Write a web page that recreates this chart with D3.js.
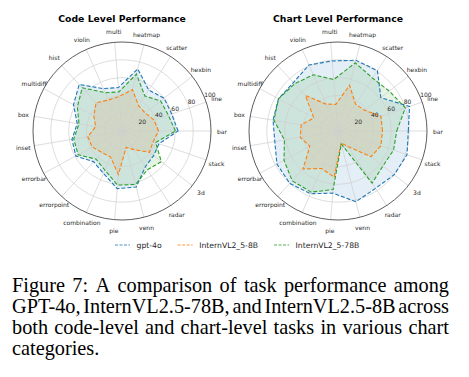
<!DOCTYPE html>
<html>
<head>
<meta charset="utf-8">
<script src="https://cdn.jsdelivr.net/npm/d3@7"></script>
<style>
  body { margin: 0; background: #fff; }
  svg { display: block; }
</style>
</head>
<body>
<div id="chart"></div>
<script>
// Chart categories, counter-clockwise from the right
const categories = ["bar", "line", "hexbin", "scatter", "heatmap", "multi", "violin", "hist", "multidiff",
  "box", "inset", "errorbar", "errorpoint", "combination", "pie", "venn", "radar", "3d", "stack"];

const models = ["gpt-4o", "InternVL2_5-8B", "InternVL2_5-78B"];

// Code level scores
const codeGpt4o   = [63, 59, 60, 55, 72, 49, 52, 71, 62, 51, 57, 59, 47, 52, 65, 65, 48, 45, 44];
const codeIntern8 = [41, 38, 33, 34, 48, 39, 38, 43, 36, 30, 39, 38, 33, 32, 49, 19, 25, 39, 37];
const codeIntern78 = [60, 55, 55, 47, 66, 44, 47, 66, 57, 49, 55, 56, 43, 48, 61, 62, 52, 56, 40];

// Chart level scores
const chartGpt4o   = [79, 85, 61, 81, 82, 79, 81, 74, 76, 74, 72, 78, 80, 77, 70, 82, 77, 80, 82];
const chartIntern8 = [50, 51, 38, 36, 53, 30, 33, 54, 31, 42, 43, 36, 58, 46, 52, 14, 21, 47, 51];
const chartIntern78 = [66, 80, 73, 71, 79, 58, 69, 72, 76, 73, 61, 69, 76, 75, 66, 15, 70, 64, 66];

const rTicks = [20, 40, 60, 80, 100];

const captionLines = [
  "Figure 7:  A comparison of task performance among",
  "GPT-4o, InternVL2.5-78B, and InternVL2.5-8B across",
  "both code-level and chart-level tasks in various chart",
  "categories."
];

const colors = ["#1f77b4", "#ff7f0e", "#2ca02c"];

const width = 469, height = 377;
const R = 89;

const svg = d3.select("#chart")
  .append("svg")
    .attr("width", width)
    .attr("height", height);

svg.append("rect")
  .attr("width", width)
  .attr("height", height)
  .attr("fill", "#fff");

const angle = d3.scaleLinear()
  .domain([0, categories.length])
  .range([0, 2 * Math.PI]);

const radius = d3.scaleLinear()
  .domain([0, 100])
  .range([0, R]);

function drawRadar(cx, title, series) {
  const g = svg.append("g").attr("transform", `translate(${cx},131)`);

  // polygon generator (d3 radial angle is clockwise from 12 o'clock)
  const line = d3.lineRadial()
    .angle((d, i) => Math.PI / 2 - angle(i))
    .radius(d => radius(d))
    .curve(d3.curveLinearClosed);

  // fills
  g.selectAll(".fill")
    .data(series)
    .join("path")
      .attr("class", "fill")
      .attr("d", d => line(d))
      .attr("fill", (d, i) => colors[i])
      .attr("fill-opacity", 0.12)
      .attr("stroke", "none");

  // grid circles
  g.selectAll(".ring")
    .data(rTicks.slice(0, -1))
    .join("circle")
      .attr("class", "ring")
      .attr("r", d => radius(d))
      .attr("fill", "none")
      .attr("stroke", "#cfcfcf")
      .attr("stroke-width", 0.7);

  // spokes
  g.selectAll(".spoke")
    .data(categories)
    .join("line")
      .attr("class", "spoke")
      .attr("x2", (d, i) => R * Math.cos(angle(i)))
      .attr("y2", (d, i) => -R * Math.sin(angle(i)))
      .attr("stroke", "#cfcfcf")
      .attr("stroke-width", 0.7);

  // outer spine
  g.append("circle")
    .attr("r", radius(100))
    .attr("fill", "none")
    .attr("stroke", "#333")
    .attr("stroke-width", 0.8);

  // outlines
  g.selectAll(".outline")
    .data(series)
    .join("path")
      .attr("class", "outline")
      .attr("d", d => line(d))
      .attr("fill", "none")
      .attr("stroke", (d, i) => colors[i])
      .attr("stroke-width", 1.1)
      .attr("stroke-dasharray", "4,2");

  // category labels
  g.selectAll(".cat")
    .data(categories)
    .join("text")
      .attr("class", "cat")
      .attr("x", (d, i) => (R + 11) * Math.cos(angle(i)))
      .attr("y", (d, i) => -(R + 11) * Math.sin(angle(i)))
      .attr("text-anchor", "middle")
      .attr("dominant-baseline", "central")
      .attr("font-family", "DejaVu Sans")
      .attr("font-size", 6)
      .attr("fill", "#262626")
      .text(d => d);

  // radial tick labels at 22.5 degrees
  const la = 22.5 * Math.PI / 180;
  g.selectAll(".rtick")
    .data(rTicks)
    .join("text")
      .attr("class", "rtick")
      .attr("x", d => radius(d) * Math.cos(la))
      .attr("y", d => -radius(d) * Math.sin(la))
      .attr("font-family", "DejaVu Sans")
      .attr("font-size", 6)
      .attr("fill", "#262626")
      .text(d => d);

  // title
  g.append("text")
    .attr("y", -109.5)
    .attr("text-anchor", "middle")
    .attr("font-family", "DejaVu Sans")
    .attr("font-weight", "bold")
    .attr("font-size", 9.3)
    .attr("fill", "#000")
    .text(title);
}

drawRadar(122, "Code Level Performance", [codeGpt4o, codeIntern8, codeIntern78]);
drawRadar(338, "Chart Level Performance", [chartGpt4o, chartIntern8, chartIntern78]);

// Legend
const legend = svg.append("g").attr("transform", "translate(115,245)");
let lx = 0;
models.forEach(function(m, i) {
  const item = legend.append("g").attr("transform", `translate(${lx},0)`);
  item.append("line")
    .attr("x2", 15)
    .attr("stroke", colors[i])
    .attr("stroke-opacity", 0.55)
    .attr("stroke-width", 1.3)
    .attr("stroke-dasharray", "3,1.5");
  const t = item.append("text")
    .attr("x", 21.5)
    .attr("dominant-baseline", "central")
    .attr("font-family", "DejaVu Sans")
    .attr("font-size", 7.7)
    .attr("fill", "#262626")
    .text(m);
  lx += 21.5 + t.node().getComputedTextLength() + 16;
});

// Caption, justified like the paper
const capLeft = 12, capRight = 449;
captionLines.forEach(function(txt, li) {
  const y = 292 + li * 21;
  const words = txt.split(/\s+/);
  const nodes = words.map(w => svg.append("text")
    .attr("y", y)
    .attr("font-family", "Liberation Serif")
    .attr("font-size", 20.3)
    .attr("fill", "#000")
    .text(w));
  const widths = nodes.map(n => n.node().getComputedTextLength());
  const total = d3.sum(widths);
  const last = li === captionLines.length - 1;
  const gap = last ? 5 : (capRight - capLeft - total) / (words.length - 1);
  let x = capLeft;
  nodes.forEach(function(n, k) {
    n.attr("x", x);
    x += widths[k] + gap;
  });
});
</script>
</body>
</html>
